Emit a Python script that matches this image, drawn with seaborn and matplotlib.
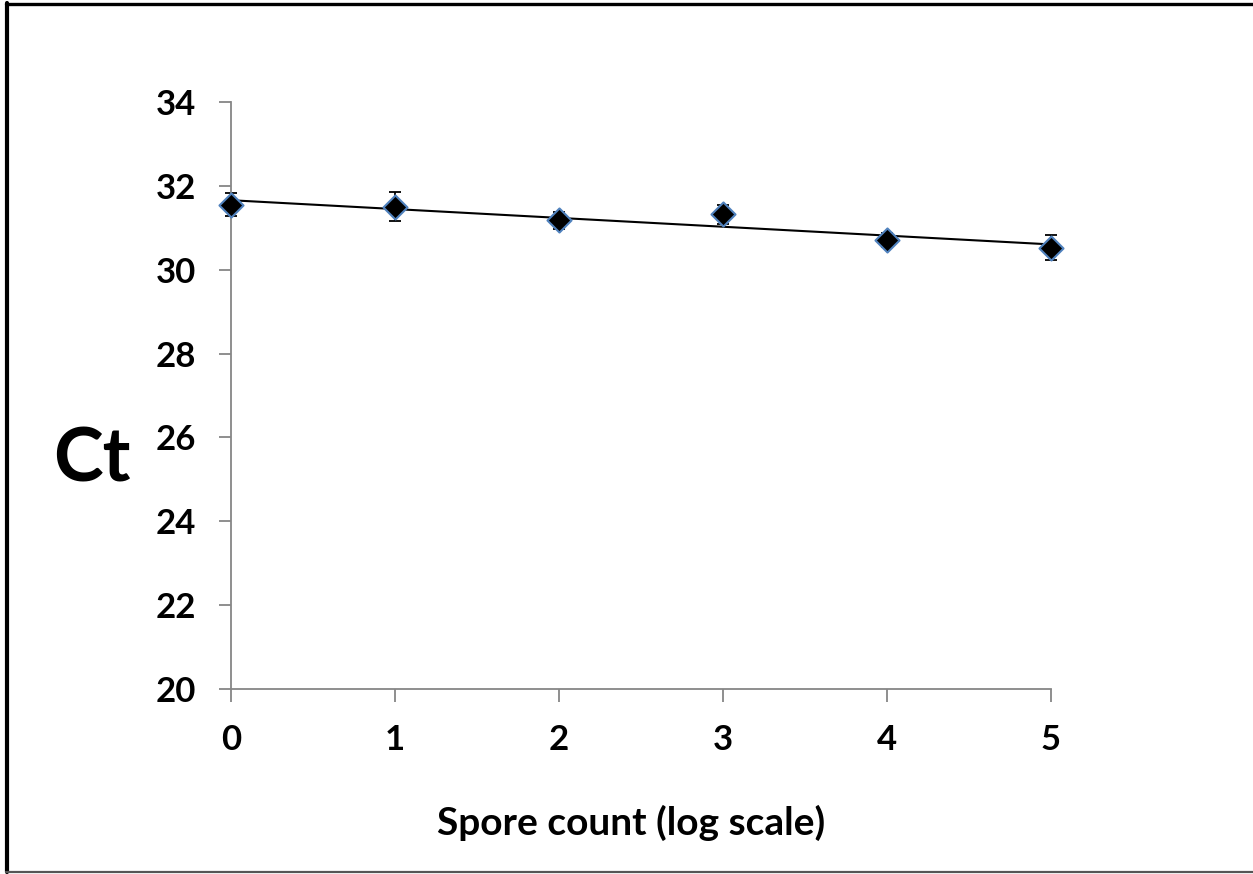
import matplotlib
matplotlib.use("Agg")
import matplotlib.pyplot as plt
import numpy as np
import pandas as pd
import seaborn as sns
from matplotlib.lines import Line2D

# values
spore_log = [0, 1, 2, 3, 4, 5]
ct_mean = [31.55, 31.50, 31.18, 31.32, 30.71, 30.52]
ct_err = [0.27, 0.35, 0.20, 0.22, 0.17, 0.30]

x_ticks = [0, 1, 2, 3, 4, 5]
y_ticks = [20, 22, 24, 26, 28, 30, 32, 34]

AXIS_GREY = "#868686"
MARKER_EDGE = "#4F81BD"

sns.set_style("white")
plt.rcParams["font.family"] = ["Lato", "DejaVu Sans"]
plt.rcParams["font.weight"] = "bold"
plt.rcParams["text.color"] = "black"

df = pd.DataFrame({"spore": spore_log, "ct": ct_mean, "err": ct_err})

fig = plt.figure(figsize=(12.53, 8.74), dpi=100)
ax = fig.add_axes([0.1844, 0.2117, 0.6544, 0.6716])

# outer frame (top, left, bottom; right edge cut off in the original)
fig.add_artist(Line2D([0.005, 1.0], [0.9955, 0.9955], transform=fig.transFigure,
                      color="black", linewidth=2.4))
fig.add_artist(Line2D([0.0052, 0.0052], [0.002, 0.9965], transform=fig.transFigure,
                      color="black", linewidth=3.0))
fig.add_artist(Line2D([0.005, 1.0], [0.0018, 0.0018], transform=fig.transFigure,
                      color="#555555", linewidth=1.6))

ax.errorbar(df["spore"], df["ct"], yerr=df["err"], fmt="none", ecolor="black",
            elinewidth=1.3, capsize=4, capthick=1.3, zorder=2, clip_on=False)
sns.regplot(data=df, x="spore", y="ct", scatter=False, ci=None, ax=ax,
            line_kws={"color": "black", "linewidth": 1.5, "zorder": 3})
sns.scatterplot(data=df, x="spore", y="ct", ax=ax, marker="D", s=150,
                color="black", edgecolor=MARKER_EDGE, linewidth=1.5, zorder=4,
                clip_on=False)

ax.set_xlim(0, 5)
ax.set_ylim(20, 34)
ax.set_xticks(x_ticks)
ax.set_yticks(y_ticks)
ax.set_xticklabels([str(v) for v in x_ticks], fontsize=25, fontweight="bold")
ax.set_yticklabels([str(v) for v in y_ticks], fontsize=25, fontweight="bold")

for side in ["top", "right"]:
    ax.spines[side].set_visible(False)
for side in ["left", "bottom"]:
    ax.spines[side].set_color(AXIS_GREY)
    ax.spines[side].set_linewidth(1.3)

ax.tick_params(axis="both", direction="out", length=9, width=1.3,
               color=AXIS_GREY, labelcolor="black", bottom=True, left=True)
ax.tick_params(axis="y", pad=16)
ax.tick_params(axis="x", pad=16)

ax.set_xlabel("Spore count (log scale)", fontsize=28, fontweight="bold", color="black")
ax.xaxis.set_label_coords(0.488, -0.228)
ax.xaxis.label.set_va("center")
ax.set_ylabel("Ct", fontsize=54, fontweight="bold", rotation=0, color="black")
ax.yaxis.set_label_coords(-0.17, 0.39)
ax.yaxis.label.set_va("center")
ax.yaxis.label.set_ha("center")

fig.savefig("out.png", dpi=100)
